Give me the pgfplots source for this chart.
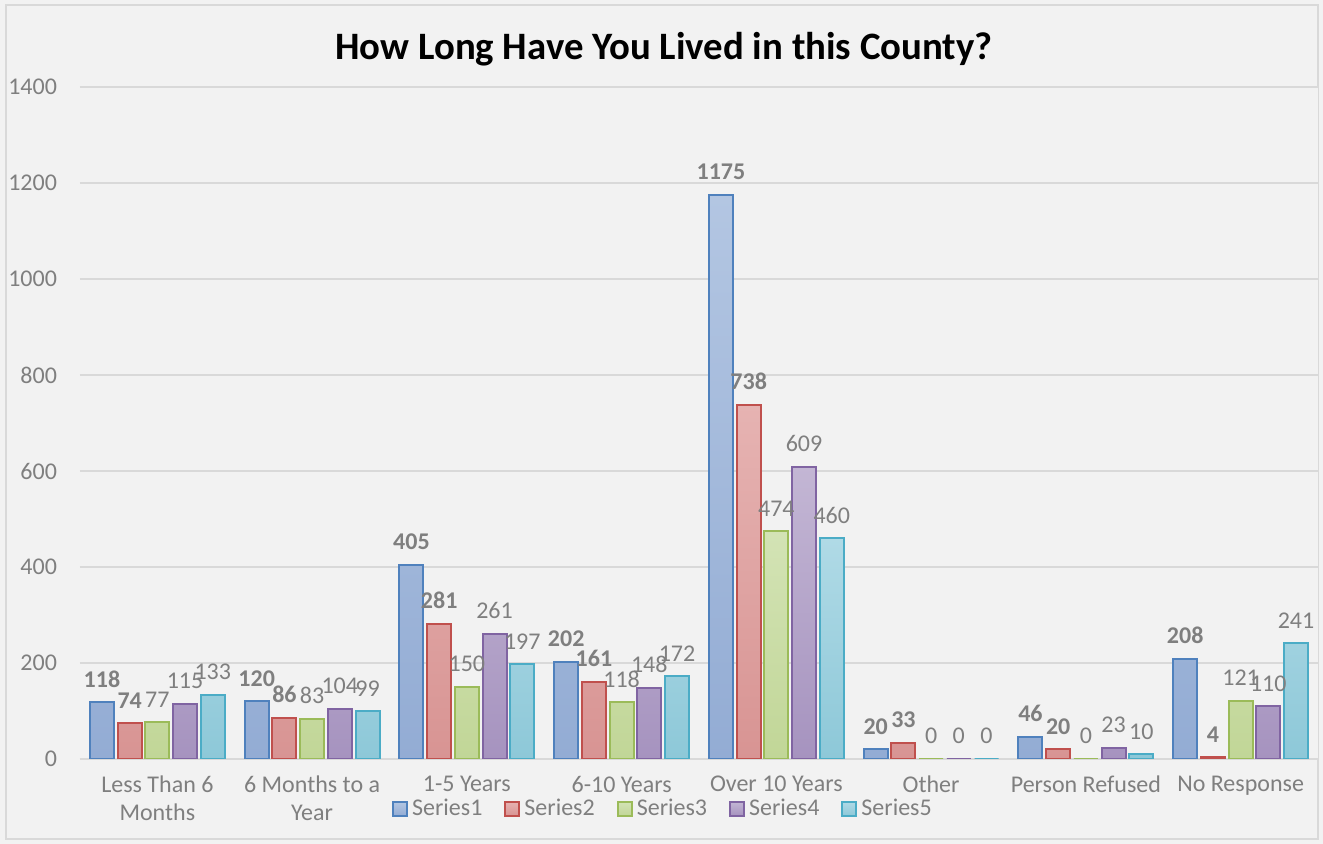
\documentclass[border=0pt]{standalone}
\usepackage{pgfplots}
\pgfplotsset{compat=1.18}
\usepackage{fontspec}
\setmainfont{Carlito}
\definecolor{bgc}{HTML}{F2F2F2}
\definecolor{txt}{HTML}{7F7F7F}
\definecolor{grd}{HTML}{D9D9D9}
\definecolor{bA}{HTML}{4F81BD}\definecolor{fA1}{HTML}{B3C6E2}\definecolor{fA2}{HTML}{93ACD4}
\definecolor{bB}{HTML}{C0504D}\definecolor{fB1}{HTML}{E6B3B2}\definecolor{fB2}{HTML}{D89493}
\definecolor{bC}{HTML}{9BBB59}\definecolor{fC1}{HTML}{D3E3B5}\definecolor{fC2}{HTML}{C1D697}
\definecolor{bD}{HTML}{8064A2}\definecolor{fD1}{HTML}{C3B6D4}\definecolor{fD2}{HTML}{A693BF}
\definecolor{bE}{HTML}{4BACC6}\definecolor{fE1}{HTML}{B0DAE6}\definecolor{fE2}{HTML}{8DC8D8}
\pgfplotstableread{
x s1 s2 s3 s4 s5
0 118 74 77 115 133
1 120 86 83 104 99
2 405 281 150 261 197
3 202 161 118 148 172
4 1175 738 474 609 460
5 20 33 0 0 0
6 46 20 0 23 10
7 208 4 121 110 241
}\datatable
\begin{document}
\begin{tikzpicture}
\fill[bgc] (-40pt,-42.5pt) rectangle (621.5pt,379.5pt);
\draw[grd,line width=0.8pt] (-37pt,-40pt) rectangle (619pt,377pt);
\begin{axis}[
  at={(0,0)}, anchor=south west,
  scale only axis, width=619pt, height=336pt,
  ybar=1.85pt, bar width=12pt,
  xmin=-0.5, xmax=7.5, ymin=0, ymax=1400,
  ytick={0,200,...,1400},
  xtick=data,
  xticklabels={{Less Than 6\\Months},{6 Months to a\\Year},{1-5 Years},{6-10 Years},{Over 10 Years},{Other},{Person Refused},{No Response}},
  xticklabel style={align=center, text=txt, font=\fontsize{12pt}{14pt}\selectfont, anchor=north, yshift=-5pt},
  yticklabel style={text=txt, font=\fontsize{12pt}{14pt}\selectfont, xshift=-8pt},
  /pgf/number format/assume math mode=true,
  /pgf/number format/1000 sep={},
  axis line style={draw=none},
  major tick length=0pt,
  ymajorgrids, grid style={grd, line width=0.9pt},
  axis background/.style={fill=bgc},
  nodes near coords,
  nodes near coords style={text=txt, font=\fontsize{12pt}{14pt}\selectfont, inner sep=2pt, yshift=5pt},
  legend style={at={(0.4717,-0.074)}, anchor=center, draw=none, fill=none, legend columns=5,
     font=\fontsize{12pt}{14pt}\selectfont, text=txt, /tikz/every even column/.append style={column sep=9pt}},
  legend image code/.code={\draw[#1] (0pt,-3.5pt) rectangle (7pt,3.5pt);},
  title={How Long Have You Lived in this County?},
  title style={font=\bfseries\fontsize{19.4pt}{22pt}\selectfont, text=black, at={(0.4717,1.058)}, anchor=center, yshift=-6.5pt},
]
\draw[grd,line width=0.9pt] (axis cs:-0.5,0) -- (axis cs:7.5,0);
\addplot[draw=bA, line width=1pt, top color=fA1, bottom color=fA2, nodes near coords style={font=\bfseries\fontsize{12pt}{14pt}\selectfont}] table[x=x,y=s1]{\datatable};
\addplot[draw=bB, line width=1pt, top color=fB1, bottom color=fB2, nodes near coords style={font=\bfseries\fontsize{12pt}{14pt}\selectfont}] table[x=x,y=s2]{\datatable};
\addplot[draw=bC, line width=1pt, top color=fC1, bottom color=fC2] table[x=x,y=s3]{\datatable};
\addplot[draw=bD, line width=1pt, top color=fD1, bottom color=fD2] table[x=x,y=s4]{\datatable};
\addplot[draw=bE, line width=1pt, top color=fE1, bottom color=fE2] table[x=x,y=s5]{\datatable};
\legend{Series1,Series2,Series3,Series4,Series5}
\end{axis}
\end{tikzpicture}
\end{document}
